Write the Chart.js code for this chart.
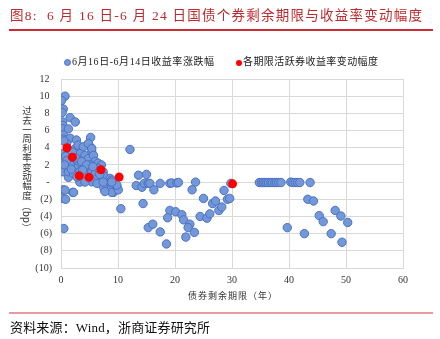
<!DOCTYPE html>
<html><head><meta charset="utf-8">
<script src="https://cdn.jsdelivr.net/npm/chart.js@4.4.0/dist/chart.umd.min.js"></script>
<style>
html,body{margin:0;padding:0;background:#fff;}
#wrap{position:relative;width:440px;height:339px;overflow:hidden;font-family:"Liberation Serif","Noto Sans CJK SC",serif;}
#c{position:absolute;left:0;top:0;}
#title{position:absolute;left:10px;top:7px;font-size:13.5px;color:#c0282d;white-space:nowrap;line-height:18px;}
#tline{position:absolute;left:9px;top:29px;width:424px;height:1.5px;background:#d02b30;}
#bline{position:absolute;left:9px;top:312px;width:424px;height:2px;background:#e89aa0;}
#src{position:absolute;left:10px;top:319px;font-size:13px;color:#111;white-space:nowrap;line-height:18px;}
.leg{position:absolute;top:55px;font-size:10px;color:#222;white-space:nowrap;line-height:14px;}
.dot{display:inline-block;width:6px;height:6px;border-radius:50%;margin-right:1px;vertical-align:-1px;}
#xtitle{position:absolute;left:188px;top:289px;font-size:9px;color:#333;letter-spacing:1px;white-space:nowrap;font-family:"Noto Sans CJK SC",sans-serif;}
</style>
</head><body>
<div id="wrap">
<canvas id="c" width="440" height="339"></canvas>
<div id="title">图8:&nbsp;&nbsp;6 月 16 日-6 月 24 日国债个券剩余期限与收益率变动幅度</div>
<div id="tline"></div>
<div class="leg" id="leg1" style="left:64px"><span class="dot" style="background:#7397d8;border:0.5px solid #4a72c2;width:5px;height:5px"></span><span id="l1t">6月16日-6月14日收益率涨跌幅</span></div>
<div class="leg" id="leg2" style="left:236px"><span class="dot" style="background:#ff0000"></span><span id="l2t">各期限活跃券收益率变动幅度</span></div>
<div id="xtitle">债券剩余期限（年）</div>
<div id="bline"></div>
<div id="src">资料来源：Wind，浙商证券研究所</div>
</div>
<script>
// Blue series: 6月16日-6月14日收益率涨跌幅 (remaining term in years, change in bp)
const blueX = [0.7,0.1,0.4,0.2,1.6,2.5,0.3,0.3,0.3,1.3,0.4,0.4,1.6,2.7,5.2,3.3,5.3,5.4,0.3,0.4,0.3,1.3,3.3,0.4,0.3,0.8,2.05,0.5,4.8,
 0.3,0.4,1.6,2.5,3.0,3.9,4.8,5.4,3.3,4.2,4.8,5.7,6.0,6.5,7.1,5.1,4.2,3.0,2.5,1.6,1.3,2.2,3.3,4.2,5.4,6.0,6.5,7.4,7.7,6.3,7.1,5.4,4.2,8.6,8.3,8.9,7.7,8.6,0.7,2.2,9.2,
 1.0,0.5,1.2,0.8,2.0,1.0,0.6,1.8,2.6,3.6,4.5,3.8,5.6,6.8,2.8,
 7.4,8.9,9.8,8.9,7.7,6.3,10.05,9.8,8.9,7.4,
 12.1,13.6,15.0,13.2,14.2,14.6,15.3,15.6,17.4,19.1,19.4,20.3,20.6,23.6,16.3,14.4,10.5,23.0,25.0,26.6,27.1,28.6,29.2,29.6,27.7,28.2,19.1,20.1,18.7,21.2,21.5,24.4,25.6,26.1,22.6,22.3,23.4,21.9,15.3,16.1,17.4,18.5,29.8,
 34.8,35.2,35.5,35.8,36.1,36.4,36.8,37.1,37.5,37.8,38.2,38.6,40.3,40.7,41.1,41.5,41.9,43.7,
 43.3,44.3,48.1,45.3,46.0,49.1,50.3,39.7,42.7,47.4,49.3];
const blueY = [10.0,9.5,8.5,8.1,7.5,7.0,7.0,6.6,6.2,6.2,5.5,5.0,5.1,4.9,5.2,4.0,4.0,3.5,3.3,2.0,1.2,0.55,0.0,-0.9,-1.9,-2.0,-1.2,-5.4,0.8,
 2.75,2.2,3.3,3.9,4.3,4.1,4.5,3.9,3.3,3.1,2.75,3.1,2.4,2.2,2.0,2.0,1.8,2.2,1.6,2.0,1.2,1.0,1.2,1.0,1.2,1.0,1.6,1.2,0.6,0.43,0.03,0.03,0.0,0.43,-0.15,-0.55,-0.93,-0.93,-0.93,-1.2,-1.2,
 4.5,4.8,3.8,3.0,3.5,2.5,2.0,1.5,2.8,2.4,2.0,1.4,1.8,0.9,0.6,
 -0.55,0.23,-0.55,-1.2,-1.1,-0.15,-0.9,-0.35,0.0,0.0,
 3.8,0.8,0.9,-0.4,-0.6,-0.15,-0.15,-0.15,-0.15,-0.15,-0.1,-0.1,-0.05,0.0,-0.9,-2.5,-3.1,-0.9,-1.9,-2.5,-2.2,-0.97,-2.0,-1.9,-3.3,-2.9,-3.3,-3.45,-4.15,-3.8,-4.4,-4.0,-4.2,-3.7,-4.9,-5.3,-5.85,-6.4,-5.3,-4.9,-5.8,-7.2,-0.15,
 -0.05,-0.05,-0.05,-0.05,-0.05,-0.05,-0.05,-0.05,-0.05,-0.05,-0.05,-0.05,0.0,-0.05,-0.05,-0.05,-0.05,-0.05,
 -2.0,-2.2,-3.3,-3.9,-4.6,-3.95,-4.7,-5.3,-6.0,-6.0,-7.0];
// Red series: 各期限活跃券收益率变动幅度
const redX = [1.05,2.0,3.2,4.9,7.0,10.2,30.1];
const redY = [4.0,2.9,0.73,0.55,1.43,0.58,-0.2];
// Axis ticks
const xMin = 0, xMax = 60, xStep = 10;
const yMin = -10, yMax = 12, yStep = 2;
// Y-axis title (upright stacked characters, then rotated unit)
const yTitleChars = '过去一周利率变动幅度';
const yTitleUnit = '（bp）';

const toPts = (xs, ys) => xs.map((x, i) => ({x: x, y: ys[i]}));
const tickFont = {family: 'Liberation Serif', size: 10};

const yTitlePlugin = {
  id: 'ytitle',
  afterDraw(chart) {
    const ctx = chart.ctx;
    ctx.save();
    ctx.fillStyle = '#333';
    ctx.font = '9.5px "Noto Sans CJK SC", sans-serif';
    ctx.textAlign = 'center';
    ctx.textBaseline = 'middle';
    for (let i = 0; i < yTitleChars.length; i++) {
      ctx.fillText(yTitleChars[i], 27, 110.5 + i * 9.4);
    }
    ctx.translate(27, 217);
    ctx.rotate(Math.PI / 2);
    ctx.fillText(yTitleUnit, 0, 0);
    ctx.restore();
  }
};

new Chart(document.getElementById('c'), {
  type: 'scatter',
  data: {datasets: [
    {label: '各期限活跃券收益率变动幅度', data: toPts(redX, redY), backgroundColor: '#ff0000', borderWidth: 0, pointRadius: 4.5, order: 0},
    {label: '6月16日-6月14日收益率涨跌幅', data: toPts(blueX, blueY), backgroundColor: '#7397d8', borderColor: '#4a72c2', borderWidth: 1, pointRadius: 4.2, order: 1}
  ]},
  options: {
    responsive: false, animation: false, devicePixelRatio: 1,
    layout: {padding: {left: 0, top: 79, right: 37, bottom: 51}},
    plugins: {legend: {display: false}, tooltip: {enabled: false}},
    scales: {
      x: {type: 'linear', min: xMin, max: xMax,
          ticks: {stepSize: xStep, padding: 6, font: tickFont, color: '#333'},
          grid: {color: '#d9d9d9', drawTicks: false}, border: {color: '#d9d9d9'},
          afterFit(s) { s.height = 20; }},
      y: {type: 'linear', min: yMin, max: yMax,
          ticks: {stepSize: yStep, padding: 9, font: tickFont, color: '#333',
                  callback: v => v > 0 ? v + ' ' : (v < 0 ? '(' + (-v) + ')' : '- ')},
          grid: {color: '#d9d9d9', drawTicks: false}, border: {color: '#d9d9d9'},
          afterFit(s) { s.width = 61; }}
    }
  },
  plugins: [yTitlePlugin]
});

function fit(el, target) {
  const n = el.textContent.length;
  el.style.letterSpacing = '0px';
  const w = el.getBoundingClientRect().width;
  el.style.letterSpacing = ((target - w) / Math.max(1, n - 1)) + 'px';
}
function fitAll() {
  fit(document.getElementById('title'), 412);
  fit(document.getElementById('l1t'), 142);
  fit(document.getElementById('l2t'), 135);
  fit(document.getElementById('src'), 200);
  fit(document.getElementById('xtitle'), 89);
}
fitAll();
if (document.fonts && document.fonts.ready) document.fonts.ready.then(fitAll);
</script>
</body></html>
